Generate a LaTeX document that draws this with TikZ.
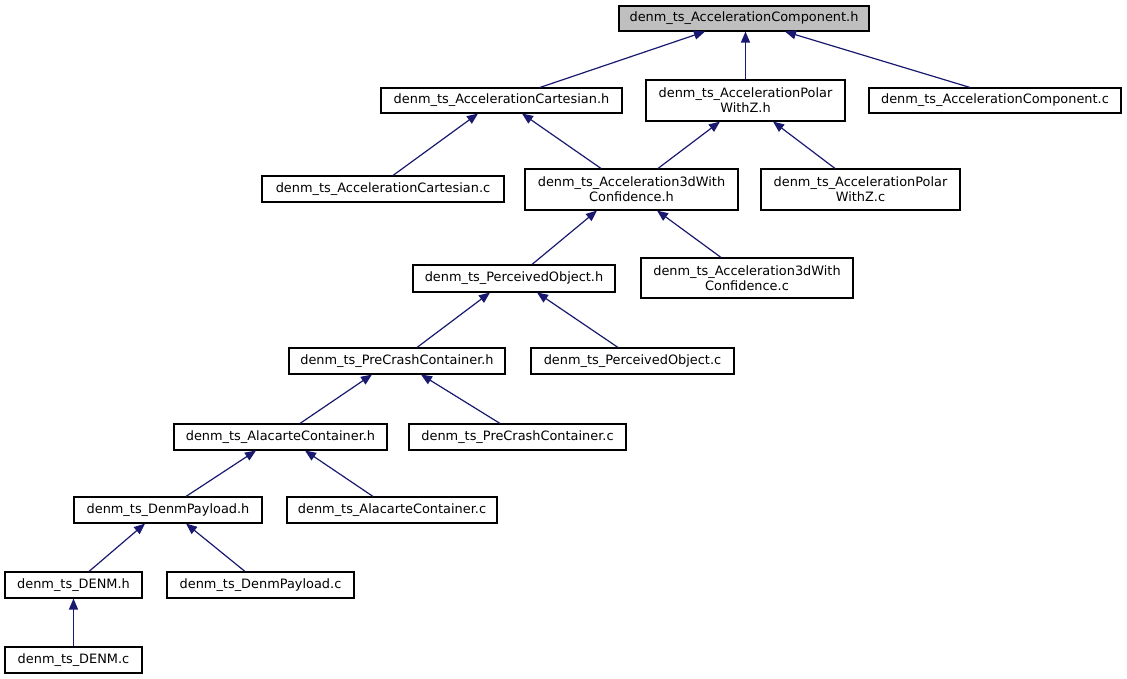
\documentclass[tikz,border=0pt]{standalone}
\usepackage{fontspec}
\setmainfont{DejaVu Sans}
\usetikzlibrary{arrows.meta,positioning,calc}
\definecolor{edgeblue}{HTML}{191970}
\definecolor{rootgray}{HTML}{BFBFBF}

\begin{document}
\begin{tikzpicture}[
    x=1pt, y=-1pt,
    file/.style={draw=black, line width=1.1pt, inner sep=0pt, align=center, fill=white,
        font=\fontsize{12.9}{15}\selectfont, minimum height=26pt},
    dep/.style={edgeblue, line width=1.2pt, -{Triangle[length=11pt, width=9pt]}}
]
\useasboundingbox (0,0) rectangle (1127,679);

\node[file, fill=rootgray, minimum width=250pt, minimum height=25pt] (comph) at (744,18.5) {denm\_ts\_AccelerationComponent.h};
\node[file, minimum width=241pt, minimum height=25pt] (carth) at (501.5,100.5) {denm\_ts\_AccelerationCartesian.h};
\node[file, minimum width=199pt, minimum height=41pt] (polarh) at (745.5,100.5) {denm\_ts\_AccelerationPolar\\WithZ.h};
\node[file, minimum width=252pt, minimum height=25pt] (compc) at (995,100.5) {denm\_ts\_AccelerationComponent.c};
\node[file, minimum width=242pt] (cartc) at (383,189) {denm\_ts\_AccelerationCartesian.c};
\node[file, minimum width=213pt, minimum height=41pt] (acch) at (631.5,189.5) {denm\_ts\_Acceleration3dWith\\Confidence.h};
\node[file, minimum width=199pt, minimum height=41pt] (polarc) at (860.5,189.5) {denm\_ts\_AccelerationPolar\\WithZ.c};
\node[file, minimum width=202pt, minimum height=27pt] (objh) at (514,278.5) {denm\_ts\_PerceivedObject.h};
\node[file, minimum width=212pt, minimum height=40pt] (accc) at (747,278) {denm\_ts\_Acceleration3dWith\\Confidence.c};
\node[file, minimum width=216pt] (crashh) at (397,361) {denm\_ts\_PreCrashContainer.h};
\node[file, minimum width=203pt] (objc) at (632.5,361) {denm\_ts\_PerceivedObject.c};
\node[file, minimum width=213pt] (carteh) at (280.5,437) {denm\_ts\_AlacarteContainer.h};
\node[file, minimum width=217pt] (crashc) at (517.5,437) {denm\_ts\_PreCrashContainer.c};
\node[file, minimum width=188pt] (payh) at (168,510) {denm\_ts\_DenmPayload.h};
\node[file, minimum width=210pt] (cartec) at (392,510) {denm\_ts\_AlacarteContainer.c};
\node[file, minimum width=137pt] (denmh) at (73.5,585) {denm\_ts\_DENM.h};
\node[file, minimum width=187pt] (payc) at (260.5,585) {denm\_ts\_DenmPayload.c};
\node[file, minimum width=137pt] (denmc) at (73.5,660) {denm\_ts\_DENM.c};

% who includes whom
\draw[dep] ([xshift=38.5pt]carth.north) -- ([xshift=-39pt]comph.south);
\draw[dep] (polarh.north) -- (polarh.north |- comph.south);
\draw[dep] ([xshift=-25pt]compc.north) -- ([xshift=41pt]comph.south);
\draw[dep] ([xshift=10pt]cartc.north) -- ([xshift=-23.5pt]carth.south);
\draw[dep] ([xshift=-30.5pt]acch.north) -- ([xshift=20.5pt]carth.south);
\draw[dep] ([xshift=26.5pt]acch.north) -- ([xshift=-25.5pt]polarh.south);
\draw[dep] ([xshift=-25.5pt]polarc.north) -- ([xshift=27.5pt]polarh.south);
\draw[dep] ([xshift=18pt]objh.north) -- ([xshift=-34.5pt]acch.south);
\draw[dep] ([xshift=-26pt]accc.north) -- ([xshift=25.5pt]acch.south);
\draw[dep] ([xshift=20pt]crashh.north) -- ([xshift=-24pt]objh.south);
\draw[dep] ([xshift=-14.5pt]objc.north) -- ([xshift=23pt]objh.south);
\draw[dep] ([xshift=19.5pt]carteh.north) -- ([xshift=-25pt]crashh.south);
\draw[dep] ([xshift=-17.5pt]crashc.north) -- ([xshift=24pt]crashh.south);
\draw[dep] ([xshift=18pt]payh.north) -- ([xshift=-24.5pt]carteh.south);
\draw[dep] ([xshift=-19pt]cartec.north) -- ([xshift=24.5pt]carteh.south);
\draw[dep] ([xshift=15.5pt]denmh.north) -- ([xshift=-23pt]payh.south);
\draw[dep] ([xshift=-15.5pt]payc.north) -- ([xshift=18pt]payh.south);
\draw[dep] (denmc.north) -- (denmh.south);
\end{tikzpicture}
\end{document}
